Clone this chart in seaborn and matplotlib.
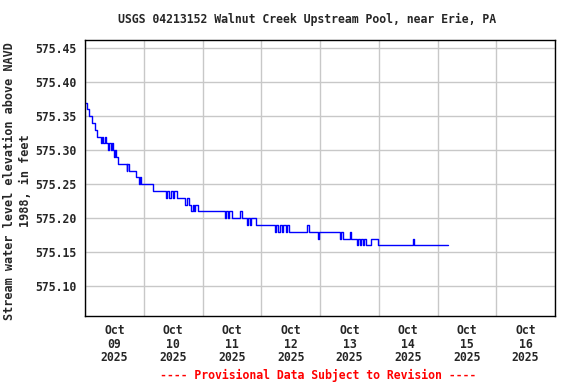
import matplotlib
matplotlib.use("Agg")
import matplotlib.pyplot as plt
import matplotlib.dates as mdates
import seaborn as sns
import pandas as pd
import numpy as np

# Hours after 2025-10-09 00:00 at which the reading changes, and the reading
hours = [0.0, 0.8, 1.5, 2.9, 4.0, 5.0, 6.5, 7.0, 7.5, 8.0, 8.5, 9.5, 10.0, 10.5,
         11.0, 11.5, 12.0, 12.3, 12.7, 13.3, 17.0, 17.3, 17.8, 21.0, 22.0, 22.5,
         23.0, 27.8, 33.0, 33.5, 34.5, 35.0, 36.0, 36.5, 37.5, 41.0, 41.5, 42.5,
         43.5, 44.0, 44.5, 45.0, 46.0, 57.0, 57.5, 58.5, 59.0, 60.0, 63.5, 64.0,
         66.0, 66.4, 67.5, 67.9, 70.0, 77.5, 78.0, 79.0, 79.5, 80.5, 81.0, 82.0,
         82.5, 83.5, 90.7, 91.4, 95.0, 95.4, 104.0, 104.6, 105.2, 108.2, 108.7,
         111.0, 111.5, 112.3, 112.8, 113.5, 114.0, 114.8, 116.8, 119.6, 134.0,
         134.5, 148.1]
elev = [575.37, 575.36, 575.35, 575.34, 575.33, 575.32, 575.31, 575.32, 575.31,
        575.32, 575.31, 575.30, 575.31, 575.30, 575.31, 575.30, 575.29, 575.30,
        575.29, 575.28, 575.27, 575.28, 575.27, 575.26, 575.25, 575.26, 575.25,
        575.24, 575.23, 575.24, 575.23, 575.24, 575.23, 575.24, 575.23, 575.22,
        575.23, 575.22, 575.21, 575.22, 575.21, 575.22, 575.21, 575.20, 575.21,
        575.20, 575.21, 575.20, 575.21, 575.20, 575.19, 575.20, 575.19, 575.20,
        575.19, 575.18, 575.19, 575.18, 575.19, 575.18, 575.19, 575.18, 575.19,
        575.18, 575.19, 575.18, 575.17, 575.18, 575.17, 575.18, 575.17, 575.18,
        575.17, 575.16, 575.17, 575.16, 575.17, 575.16, 575.17, 575.16, 575.17,
        575.16, 575.17, 575.16, 575.16]

y_ticks = [575.10, 575.15, 575.20, 575.25, 575.30, 575.35, 575.40, 575.45]
title = "USGS 04213152 Walnut Creek Upstream Pool, near Erie, PA"
ylabel = "Stream water level elevation above NAVD\n1988, in feet"
footer = "---- Provisional Data Subject to Revision ----"

base = pd.Timestamp("2025-10-09 00:00")
df = pd.DataFrame({"time": base + pd.to_timedelta(hours, unit="h"), "elev": elev})

sns.set_style("white")
plt.rcParams["font.family"] = ["DejaVu Sans Mono"]
plt.rcParams["font.weight"] = "bold"

FS = 8.3

fig = plt.figure(figsize=(5.76, 3.84), dpi=100)
ax = fig.add_axes([85 / 576, 1 - 316 / 384, 470 / 576, 276 / 384])

sns.lineplot(data=df, x="time", y="elev", ax=ax, color="#0000ff",
             linewidth=1.0, drawstyle="steps-post")

ax.set_xlim(base, base + pd.Timedelta(days=8))
ax.set_ylim(575.0563, 575.4622)
ax.set_yticks(y_ticks)
ax.set_yticklabels([f"{v:.2f}" for v in y_ticks])

ax.xaxis.set_major_locator(mdates.DayLocator())
ax.xaxis.set_major_formatter(plt.NullFormatter())
ax.xaxis.set_minor_locator(mdates.HourLocator(byhour=[12]))
ax.xaxis.set_minor_formatter(mdates.DateFormatter("%b\n%d\n%Y"))

ax.grid(True, which="major", color="#c8c8c8", linewidth=1.0)
ax.set_axisbelow(True)
ax.tick_params(axis="both", which="both", length=0, labelsize=FS)
ax.tick_params(axis="y", pad=6)
ax.tick_params(axis="x", which="minor", pad=6)
for lab in ax.get_xticklabels(minor=True):
    lab.set_fontweight("bold")
    lab.set_linespacing(1.05)
for lab in ax.get_yticklabels():
    lab.set_fontweight("bold")

for sp in ax.spines.values():
    sp.set_visible(True)
    sp.set_color("black")
    sp.set_linewidth(1.0)

ax.set_xlabel("")
ax.set_ylabel(ylabel, fontsize=8.6, fontweight="bold", linespacing=1.3)
ax.yaxis.set_label_coords((32 - 85) / 470, 0.49)

fig.text(307 / 576, 1 - 19 / 384, title, ha="center", va="center",
         fontsize=FS, fontweight="bold")
fig.text(318 / 576, 1 - 375 / 384, footer, ha="center", va="center",
         fontsize=FS, fontweight="bold", color="#ff0000")

fig.savefig("out.png", dpi=100)
